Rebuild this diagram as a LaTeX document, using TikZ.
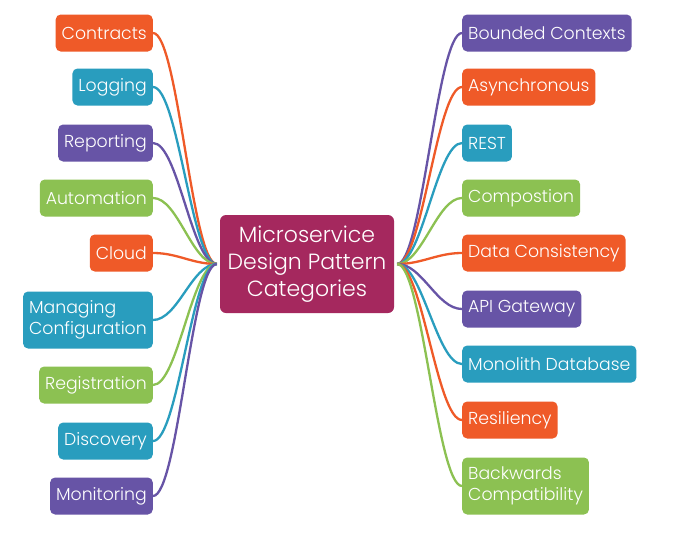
\documentclass[tikz,border=0pt]{standalone}
\usepackage{fontspec}
\setmainfont{Poppins Light}
\usetikzlibrary{backgrounds}
\definecolor{cOrange}{HTML}{EF5A28}
\definecolor{cTeal}{HTML}{299DBE}
\definecolor{cPurple}{HTML}{6754A6}
\definecolor{cGreen}{HTML}{8CC152}
\definecolor{cHub}{HTML}{A5285E}
\tikzset{
  topic/.style={rounded corners=5pt, text=white, inner xsep=6pt, inner ysep=0pt,
    minimum height=37pt, font=\fontsize{17.3}{21.5}\selectfont, align=left},
  lefttopic/.style={topic, anchor=east},
  righttopic/.style={topic, anchor=west},
  hub/.style={rounded corners=6pt, fill=cHub, text=white, minimum width=174pt,
    minimum height=98pt, align=center, font=\fontsize{22}{27}\selectfont},
  branch/.style={line width=2.3pt},
}
\begin{document}
\begin{tikzpicture}[x=1pt,y=-1pt]
\useasboundingbox (0,0) rectangle (674,538);

% central topic
\node[hub] (hub) at (307,264) {Microservice\\Design Pattern\\Categories};
\coordinate (hl) at ([xshift=-3pt]hub.west);
\coordinate (hr) at ([xshift=3pt]hub.east);

% left branches
\node[lefttopic, fill=cOrange] (contracts)    at (153,33)  {Contracts};
\node[lefttopic, fill=cTeal]   (logging)      at (153,87)  {Logging};
\node[lefttopic, fill=cPurple] (reporting)    at (153,143) {Reporting};
\node[lefttopic, fill=cGreen]  (automation)   at (153,198) {Automation};
\node[lefttopic, fill=cOrange] (cloud)        at (153,253) {Cloud};
\node[lefttopic, fill=cTeal, minimum height=57pt] (managing) at (153,320) {Managing\\Configuration};
\node[lefttopic, fill=cGreen]  (registration) at (153,385) {Registration};
\node[lefttopic, fill=cTeal]   (discovery)    at (153,441) {Discovery};
\node[lefttopic, fill=cPurple] (monitoring)   at (153,496) {Monitoring};

% right branches
\node[righttopic, fill=cPurple] (bounded)    at (462,33)  {Bounded Contexts};
\node[righttopic, fill=cOrange] (async)      at (462,87)  {Asynchronous};
\node[righttopic, fill=cTeal]   (rest)       at (462,143) {REST};
\node[righttopic, fill=cGreen]  (compostion) at (462,198) {Compostion};
\node[righttopic, fill=cOrange] (datacons)   at (462,253) {Data Consistency};
\node[righttopic, fill=cPurple] (apigw)      at (462,309) {API Gateway};
\node[righttopic, fill=cTeal]   (monolith)   at (462,364) {Monolith Database};
\node[righttopic, fill=cOrange] (resiliency) at (462,420) {Resiliency};
\node[righttopic, fill=cGreen, minimum height=57pt] (backwards) at (462,486) {Backwards\\Compatibility};

\begin{scope}[on background layer]
  \fill[white] (0,0) rectangle (674,538);
  \foreach \n/\c in {contracts/cOrange, logging/cTeal, reporting/cPurple,
      automation/cGreen, cloud/cOrange, managing/cTeal, registration/cGreen,
      discovery/cTeal, monitoring/cPurple}
    \draw[branch, \c] (\n.east) .. controls +(25,0) and +(-25,0) .. (hl);
  \foreach \n/\c in {bounded/cPurple, async/cOrange, rest/cTeal,
      compostion/cGreen, datacons/cOrange, apigw/cPurple, monolith/cTeal,
      resiliency/cOrange, backwards/cGreen}
    \draw[branch, \c] (hr) .. controls +(25,0) and +(-25,0) .. (\n.west);
\end{scope}
\end{tikzpicture}
\end{document}
